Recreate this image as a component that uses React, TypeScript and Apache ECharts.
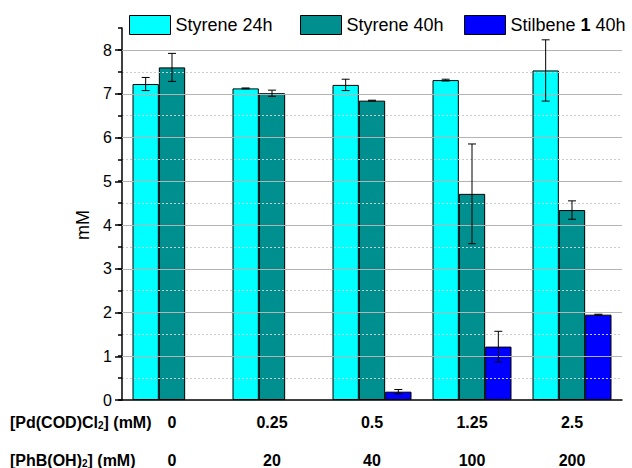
import React, { useEffect, useRef } from "react";
import * as echarts from "echarts";

const pdConc = ["0", "0.25", "0.5", "1.25", "2.5"];
const phbConc = ["0", "20", "40", "100", "200"];
const styrene24 = [7.22, 7.12, 7.2, 7.31, 7.53];
const styrene24Err = [0.15, 0.01, 0.13, 0.02, 0.7];
const styrene40 = [7.6, 7.01, 6.84, 4.71, 4.34];
const styrene40Err = [0.32, 0.07, 0.01, 1.14, 0.21];
const stilbene: (number | null)[] = [null, null, 0.19, 1.22, 1.95];
const stilbeneErr = [0, 0, 0.05, 0.35, 0.01];
const seriesNames = ["Styrene 24h", "Styrene 40h", "Stilbene 1 40h"];
const colors = ["#00FFFF", "#008F8F", "#0000FF"];

const FONT = "Liberation Sans, Arial, sans-serif";

export default function App() {
  const ref = useRef<HTMLDivElement>(null);
  useEffect(() => {
    if (!ref.current) return;
    const chart = echarts.init(ref.current, undefined, { renderer: "svg" });

    const values = [styrene24, styrene40, stilbene];
    const errs = [styrene24Err, styrene40Err, stilbeneErr];
    const errData: number[][] = [];
    values.forEach((arr, k) => {
      arr.forEach((v, i) => {
        if (v == null) return;
        const e = errs[k][i];
        errData.push([i, v - e, v + e, k]);
      });
    });

    const barSeries = values.map((arr, k) => ({
      name: seriesNames[k],
      type: "bar",
      xAxisIndex: 0,
      yAxisIndex: 0,
      data: arr.map((v) => (v == null ? "-" : v)),
      barGap: "0%",
      barCategoryGap: "21%",
      itemStyle: { color: colors[k], borderColor: "#000", borderWidth: 1 },
      z: 2,
    }));

    const subRich = {
      m: { fontSize: 16, fontWeight: "bold", lineHeight: 16, fill: "#000", fontFamily: FONT },
      s: { fontSize: 10, fontWeight: "bold", lineHeight: 8, verticalAlign: "bottom", fill: "#000", fontFamily: FONT },
    };

    const legendLefts = [129, 300, 464];
    const legends = seriesNames.map((name, k) => ({
      left: legendLefts[k],
      top: 15,
      padding: 0,
      itemWidth: 41,
      itemHeight: 19,
      icon: "rect",
      data: [name],
      itemStyle: { borderColor: "#000", borderWidth: 1 },
      textStyle: {
        fontSize: 18,
        fontFamily: FONT,
        color: "#000",
        rich: { b: { fontSize: 18, fontWeight: "bold", fontFamily: FONT, color: "#000" } },
      },
      formatter: (n: string) => (n === "Stilbene 1 40h" ? "Stilbene {b|1} 40h" : n),
    }));

    const option: any = {
      animation: false,
      textStyle: { fontFamily: FONT },
      legend: legends,
      grid: [
        { left: 122, right: 10, top: 28, bottom: 68 },
        { left: 122, right: 10, top: 50, bottom: 68 },
      ],
      xAxis: [
        {
          type: "category",
          gridIndex: 0,
          data: pdConc,
          boundaryGap: true,
          axisLine: { lineStyle: { color: "#000", width: 1.5 } },
          axisTick: { alignWithLabel: true, length: 6, lineStyle: { color: "#000", width: 1.5 } },
          axisLabel: {
            margin: 14,
            fontSize: 16,
            fontWeight: "bold",
            lineHeight: 16,
            color: "#000",
            fontFamily: FONT,
          },
          splitLine: { show: false },
          z: 5,
        },
        {
          type: "category",
          gridIndex: 1,
          data: phbConc,
          boundaryGap: true,
          position: "bottom",
          axisLine: { show: false },
          axisTick: { show: false },
          axisLabel: {
            margin: 52,
            fontSize: 16,
            fontWeight: "bold",
            lineHeight: 16,
            color: "#000",
            fontFamily: FONT,
          },
          splitLine: { show: false },
        },
      ],
      yAxis: [
        {
          type: "value",
          gridIndex: 0,
          min: 0,
          max: 8.5,
          interval: 0.5,
          axisLine: { show: true, lineStyle: { color: "#000", width: 1.5 } },
          axisTick: { show: true, length: 4, lineStyle: { color: "#000", width: 1.5 } },
          axisLabel: { show: false },
          splitLine: {
            show: true,
            showMinLine: false,
            showMaxLine: false,
            lineStyle: { color: ["#cccccc", "rgba(0,0,0,0)"], type: [2, 2], width: 1 },
          },
          z: 4,
        },
        {
          type: "value",
          gridIndex: 1,
          min: 0,
          max: 8,
          interval: 1,
          name: "mM",
          nameLocation: "middle",
          nameGap: 28,
          nameTextStyle: { fontSize: 18, color: "#000", fontFamily: FONT },
          axisLine: { show: false },
          axisTick: { show: true, length: 7, lineStyle: { color: "#000", width: 1.5 } },
          axisLabel: { margin: 10, fontSize: 16, color: "#000", fontFamily: FONT },
          splitLine: {
            show: true,
            showMinLine: false,
            lineStyle: { color: "#b4b4b4", width: 1 },
          },
          z: 5,
        },
      ],
      graphic: [
        {
          type: "text",
          x: 10,
          y: 422,
          style: {
            text: "{m|[Pd(COD)Cl}{s|2}{m|] (mM)}",
            verticalAlign: "middle",
            align: "left",
            rich: subRich,
          },
        },
        {
          type: "text",
          x: 10,
          y: 460,
          style: {
            text: "{m|[PhB(OH)}{s|2}{m|] (mM)}",
            verticalAlign: "middle",
            align: "left",
            rich: subRich,
          },
        },
      ],
      series: [
        ...barSeries,
        {
          type: "custom",
          name: "errors",
          xAxisIndex: 0,
          yAxisIndex: 0,
          z: 10,
          encode: { x: 0, y: [1, 2] },
          data: errData,
          renderItem: (params: any, api: any) => {
            const cat = api.value(0);
            const lo = api.value(1);
            const hi = api.value(2);
            const k = api.value(3);
            const catW = api.size([1, 0])[0];
            const bw = (catW * 0.79) / 3;
            const p0 = api.coord([cat, lo]);
            const p1 = api.coord([cat, hi]);
            const x = p0[0] + (k - 1) * bw;
            const cap = 4;
            const st = { stroke: "#000", lineWidth: 1 };
            return {
              type: "group",
              children: [
                { type: "line", shape: { x1: x, y1: p0[1], x2: x, y2: p1[1] }, style: st },
                { type: "line", shape: { x1: x - cap, y1: p0[1], x2: x + cap, y2: p0[1] }, style: st },
                { type: "line", shape: { x1: x - cap, y1: p1[1], x2: x + cap, y2: p1[1] }, style: st },
              ],
            };
          },
        },
      ],
    };
    chart.setOption(option);
    return () => chart.dispose();
  }, []);
  return <div ref={ref} style={{ width: 632, height: 468, position: "absolute", left: 0, top: 0 }} />;
}
